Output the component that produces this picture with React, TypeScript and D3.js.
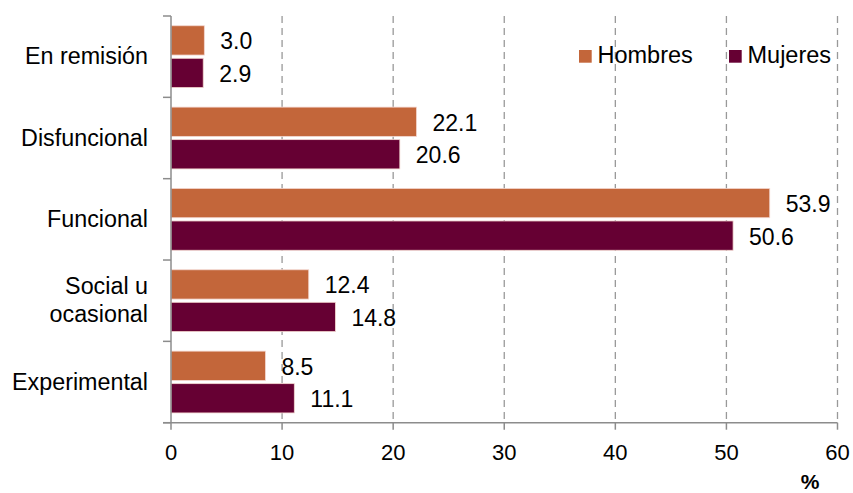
import React from "react";
import * as d3 from "d3";

const categories = ["En remisión", "Disfuncional", "Funcional", "Social u ocasional", "Experimental"];
const categoryLines = [["En remisión"], ["Disfuncional"], ["Funcional"], ["Social u", "ocasional"], ["Experimental"]];
const seriesNames = ["Hombres", "Mujeres"];
const hombres = [3.0, 22.1, 53.9, 12.4, 8.5];
const mujeres = [2.9, 20.6, 50.6, 14.8, 11.1];
const xTicks = [0, 10, 20, 30, 40, 50, 60];
const colors = ["#C3663A", "#660033"];

const W = 853;
const H = 493;
const left = 171;
const right = 837.5;
const top = 16;
const bottom = 422.7;
const FONT = "Liberation Sans, Arial, sans-serif";

export default function App() {
  const x = d3.scaleLinear().domain([0, 60]).range([left, right]);
  const y = d3.scaleBand<string>().domain(categories).range([top, bottom]).padding(0);
  const inner = d3.scaleBand<string>().domain(seriesNames).range([0, y.bandwidth()]).paddingInner(0.1).paddingOuter(0.3);
  const seriesValues = [hombres, mujeres];
  const boundaries = categories.map((c) => y(c) as number).concat([bottom]);
  const axisColor = "#8c8c8c";

  return (
    <svg width={W} height={H} style={{ position: "absolute", left: 0, top: 0, background: "#fff" }} fontFamily={FONT}>
      {/* grid */}
      {xTicks.filter((t) => t > 0).map((t) => (
        <line key={"g" + t} x1={x(t)} x2={x(t)} y1={top} y2={bottom} stroke="#999" strokeWidth={1.3} strokeDasharray="7,5" />
      ))}
      {/* bars */}
      {categories.map((c, i) => (
        <g key={c}>
          {seriesNames.map((s, k) => {
            const v = seriesValues[k][i];
            const by = (y(c) as number) + (inner(s) as number);
            return (
              <g key={s}>
                <rect x={x(0)} y={by} width={x(v) - x(0)} height={inner.bandwidth()} fill={colors[k]} stroke="#f3d6cf" strokeWidth={0.8} />
                <text x={x(v) + 16} y={by + inner.bandwidth() / 2 + 1} dominantBaseline="central" fontSize={23} fill="#000">
                  {v.toFixed(1)}
                </text>
              </g>
            );
          })}
        </g>
      ))}
      {/* y axis */}
      <line x1={left} x2={left} y1={top} y2={bottom} stroke={axisColor} strokeWidth={1.5} />
      {boundaries.map((b, i) => (
        <line key={"yt" + i} x1={left - 8} x2={left} y1={b} y2={b} stroke={axisColor} strokeWidth={1.5} />
      ))}
      {categoryLines.map((lines, i) => {
        const cy = (y(categories[i]) as number) + y.bandwidth() / 2;
        const lh = 28;
        const start = cy - ((lines.length - 1) * lh) / 2;
        return (
          <text key={"cl" + i} textAnchor="end" fontSize={23.3} fill="#000">
            {lines.map((l, j) => (
              <tspan key={j} x={148} y={start + j * lh - 0.5} dominantBaseline="central">
                {l}
              </tspan>
            ))}
          </text>
        );
      })}
      {/* x axis */}
      <line x1={left - 8} x2={right} y1={bottom} y2={bottom} stroke={axisColor} strokeWidth={1.5} />
      {xTicks.map((t) => (
        <g key={"xt" + t}>
          <line x1={x(t)} x2={x(t)} y1={bottom} y2={bottom + 7} stroke={axisColor} strokeWidth={1.5} />
          <text x={x(t)} y={460} textAnchor="middle" fontSize={22} fill="#000">
            {t}
          </text>
        </g>
      ))}
      <text x={810} y={489} textAnchor="middle" fontSize={21} fontWeight="bold" fill="#000">
        %
      </text>
      {/* legend */}
      {seriesNames.map((s, k) => {
        const lx = k === 0 ? 579 : 729;
        return (
          <g key={"lg" + s}>
            <rect x={lx} y={50} width={12.7} height={12.7} fill={colors[k]} />
            <text x={lx + 18.5} y={63} fontSize={23.5} fill="#000">
              {s}
            </text>
          </g>
        );
      })}
    </svg>
  );
}
